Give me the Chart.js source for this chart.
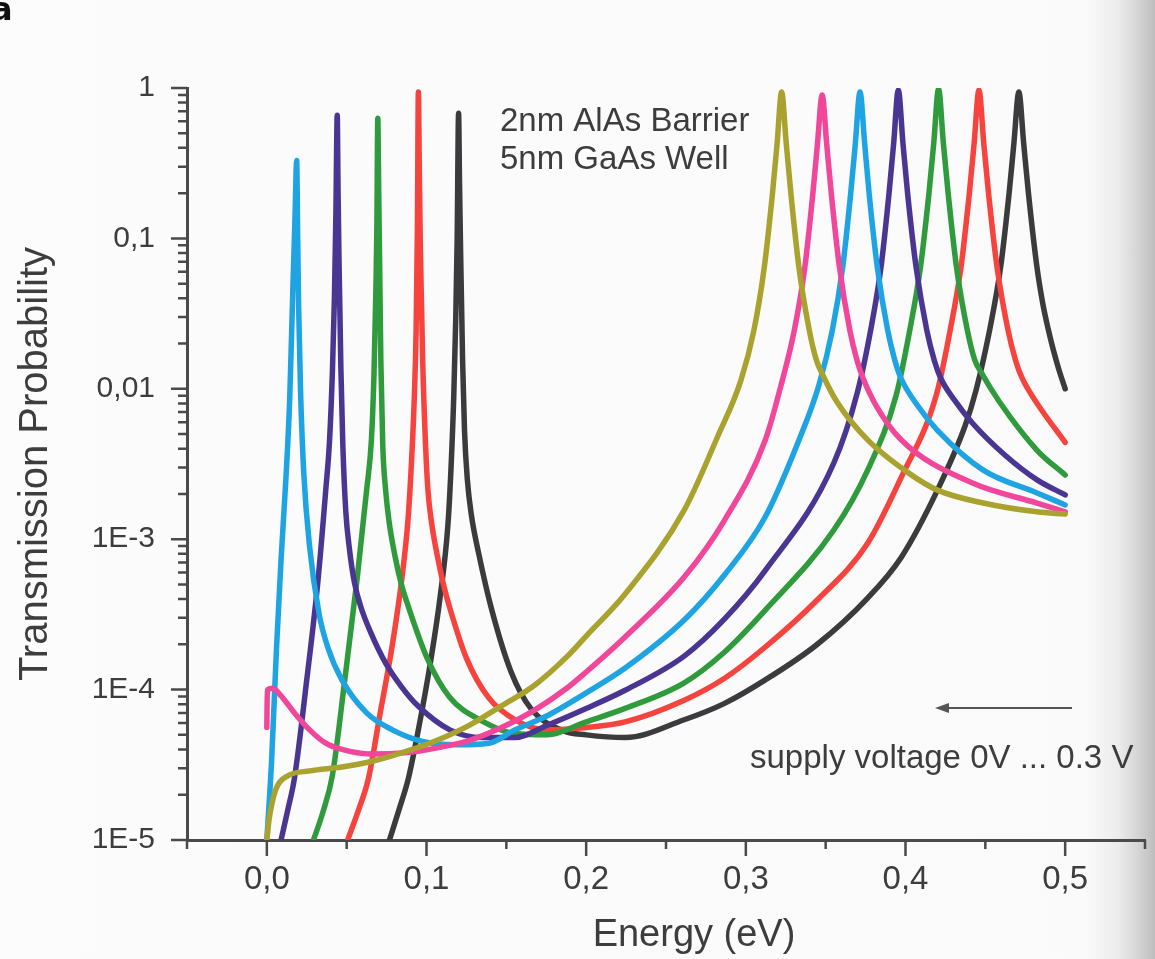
<!DOCTYPE html>
<html lang="en">
<head>
<meta charset="utf-8">
<title>Transmission Probability – Double Barrier</title>
<script src="https://cdn.jsdelivr.net/npm/chart.js@4.4.0/dist/chart.umd.min.js"></script>
<style>
  html, body { margin: 0; padding: 0; }
  body {
    width: 1155px; height: 959px; overflow: hidden;
    background: linear-gradient(to right, #fcfcfc 0px, #fafafa 1085px, #ececec 1118px, #d2d2d2 1140px, #bdbdbd 1155px);
  }
  #wrap { position: relative; width: 1155px; height: 959px; }
</style>
</head>
<body>
<div id="wrap"><canvas id="chartTrans" width="1155" height="959"></canvas></div>
<script>
// --- DONNÉES : énergie (eV) / probabilité de transmission, une série par tension ---
const energy00 = [0.0768, 0.0827, 0.0887, 0.0946, 0.1024, 0.1085, 0.1134, 0.1153, 0.1171, 0.1183, 0.1192, 0.1201, 0.1207, 0.1214, 0.1226, 0.1238, 0.1256, 0.1281, 0.1329, 0.1409, 0.153, 0.1653, 0.186, 0.2, 0.2244, 0.2614, 0.2867, 0.3122, 0.3442, 0.3763, 0.3974, 0.42, 0.4374, 0.4442, 0.4527, 0.4595, 0.4649, 0.4679, 0.471, 0.474, 0.477, 0.4824, 0.4858, 0.4892, 0.4926, 0.496, 0.5];
const trans00  = [1e-5, 1.58e-5, 2.58e-5, 5.2e-5, 1.5e-4, 4.1e-4, 1.24e-3, 2.88e-3, 9.1e-3, 0.0287, 0.0976, 0.68, 0.226, 0.0776, 0.0155, 5.3e-3, 2.48e-3, 1.45e-3, 7.85e-4, 3.38e-4, 1.31e-4, 7.5e-5, 5.3e-5, 5.0e-5, 4.8e-5, 6.3e-5, 8.1e-5, 1.16e-4, 1.98e-4, 4.06e-4, 7.6e-4, 2.12e-3, 5.7e-3, 9.8e-3, 0.0246, 0.0636, 0.20, 0.43, 0.94, 0.43, 0.20, 0.0636, 0.0378, 0.0254, 0.0181, 0.0135, 0.0100];

const energy05 = [0.0506, 0.0574, 0.0637, 0.0708, 0.0786, 0.0845, 0.0884, 0.0905, 0.0923, 0.0935, 0.0943, 0.0949, 0.0955, 0.0961, 0.0976, 0.0994, 0.1009, 0.1034, 0.1067, 0.1107, 0.1146, 0.125, 0.139, 0.1555, 0.1756, 0.2, 0.2244, 0.2614, 0.2867, 0.3122, 0.3442, 0.3763, 0.3974, 0.4193, 0.428, 0.4347, 0.44, 0.443, 0.446, 0.449, 0.452, 0.4574, 0.4642, 0.4689, 0.473, 0.4824, 0.5];
const trans05  = [1e-5, 1.58e-5, 2.58e-5, 6.8e-5, 1.98e-4, 5.4e-4, 1.34e-3, 3.11e-3, 8.4e-3, 0.0246, 0.114, 0.94, 0.285, 0.0904, 0.0155, 4.23e-3, 2.12e-3, 1.24e-3, 7.85e-4, 4.96e-4, 3.49e-4, 1.62e-4, 8.8e-5, 6.3e-5, 5.4e-5, 5.6e-5, 6.1e-5, 8.5e-5, 1.19e-4, 1.92e-4, 3.9e-4, 9.4e-4, 2.59e-3, 9.1e-3, 0.0246, 0.0636, 0.20, 0.43, 0.97, 0.43, 0.20, 0.0636, 0.0246, 0.0155, 0.0118, 8.0e-3, 4.4e-3];

const energy10 = [0.0292, 0.0351, 0.0411, 0.0488, 0.0565, 0.0625, 0.0655, 0.0671, 0.0683, 0.0689, 0.0695, 0.0701, 0.0707, 0.0714, 0.0726, 0.0744, 0.0766, 0.0804, 0.0843, 0.0885, 0.1004, 0.1145, 0.1346, 0.1553, 0.1756, 0.2, 0.2244, 0.2614, 0.2867, 0.3122, 0.3551, 0.3763, 0.3942, 0.4027, 0.4093, 0.4147, 0.4177, 0.4207, 0.4237, 0.4267, 0.432, 0.4387, 0.4434, 0.4473, 0.4588, 0.4824, 0.5];
const trans10  = [1e-5, 1.53e-5, 2.7e-5, 1.16e-4, 5.4e-4, 2.12e-3, 4.57e-3, 0.0124, 0.0454, 0.114, 0.63, 0.194, 0.0617, 0.0155, 4.23e-3, 2.12e-3, 1.3e-3, 7.6e-4, 5.0e-4, 3.6e-4, 1.62e-4, 8.9e-5, 6.2e-5, 5.1e-5, 5.0e-5, 6.1e-5, 7.5e-5, 1.11e-4, 1.78e-4, 3.38e-4, 1.15e-3, 2.88e-3, 9.1e-3, 0.0246, 0.0636, 0.20, 0.43, 0.985, 0.43, 0.20, 0.0636, 0.0246, 0.0155, 0.0129, 8.2e-3, 3.9e-3, 2.67e-3];

const energy15 = [0.0089, 0.0131, 0.0173, 0.025, 0.0321, 0.0369, 0.0393, 0.0411, 0.0423, 0.0432, 0.0441, 0.0446, 0.0452, 0.0464, 0.0476, 0.0494, 0.0518, 0.0548, 0.0589, 0.0649, 0.0744, 0.0845, 0.0946, 0.1146, 0.1348, 0.1555, 0.1756, 0.2, 0.2244, 0.2614, 0.2867, 0.3122, 0.3551, 0.3699, 0.3782, 0.3846, 0.3897, 0.3926, 0.3955, 0.3984, 0.4013, 0.4067, 0.4133, 0.418, 0.422, 0.4307, 0.442, 0.4622, 0.4824, 0.5];
const trans15  = [1e-5, 1.58e-5, 2.58e-5, 1.16e-4, 5.4e-4, 2.12e-3, 4.57e-3, 0.0133, 0.039, 0.133, 0.66, 0.21, 0.072, 0.0133, 4.23e-3, 1.56e-3, 8.5e-4, 5.2e-4, 3.54e-4, 2.42e-4, 1.5e-4, 1.04e-4, 7.8e-5, 5.4e-5, 4.8e-5, 4.8e-5, 5.8e-5, 7.5e-5, 9.9e-5, 1.67e-4, 2.95e-4, 6.2e-4, 3.21e-3, 9.5e-3, 0.0246, 0.0636, 0.20, 0.43, 0.97, 0.43, 0.20, 0.0636, 0.0246, 0.0155, 0.0118, 8.4e-3, 5.9e-3, 3.63e-3, 2.48e-3, 1.97e-3];

const energy20 = [0, 0.003, 0.006, 0.0089, 0.0119, 0.0143, 0.0161, 0.0176, 0.0187, 0.0193, 0.0199, 0.0211, 0.0232, 0.0268, 0.0327, 0.0381, 0.047, 0.0625, 0.0786, 0.0982, 0.1189, 0.139, 0.1555, 0.1756, 0.2, 0.2244, 0.2614, 0.2867, 0.3122, 0.3333, 0.3458, 0.3542, 0.3606, 0.3657, 0.3686, 0.3715, 0.3744, 0.3772, 0.3824, 0.3888, 0.3933, 0.3971, 0.4073, 0.42, 0.4487, 0.4824, 0.5];
const trans20  = [1e-5, 3.4e-5, 1.83e-4, 7.3e-4, 2.48e-3, 8.4e-3, 0.039, 0.133, 0.33, 0.105, 0.036, 9.8e-3, 2.67e-3, 8.9e-4, 3.2e-4, 1.92e-4, 1.16e-4, 7.0e-5, 5.4e-5, 4.5e-5, 4.3e-5, 4.4e-5, 5.4e-5, 6.7e-5, 9.5e-5, 1.39e-4, 2.9e-4, 5.8e-4, 1.41e-3, 4.57e-3, 0.0106, 0.0246, 0.0636, 0.20, 0.43, 0.94, 0.43, 0.20, 0.0636, 0.0246, 0.0155, 0.0118, 7.8e-3, 5.3e-3, 2.88e-3, 2.03e-3, 1.69e-3];

const energy25 = [0, 0.0003, 0.0036, 0.0089, 0.0173, 0.0268, 0.0369, 0.047, 0.0649, 0.0863, 0.1067, 0.127, 0.147, 0.1677, 0.1878, 0.2, 0.2244, 0.2614, 0.2867, 0.3122, 0.3221, 0.3304, 0.3369, 0.342, 0.3449, 0.3478, 0.3506, 0.3535, 0.3587, 0.3651, 0.3696, 0.3734, 0.3814, 0.3974, 0.442, 0.4824, 0.5];
const trans25  = [5.6e-5, 9.9e-5, 1.02e-4, 9.1e-5, 7.0e-5, 5.4e-5, 4.4e-5, 4.0e-5, 3.73e-5, 3.8e-5, 4.1e-5, 4.6e-5, 5.6e-5, 7.3e-5, 1.02e-4, 1.31e-4, 2.24e-4, 5.6e-4, 1.34e-3, 4.57e-3, 0.0106, 0.0246, 0.0636, 0.20, 0.43, 0.90, 0.43, 0.20, 0.0636, 0.0246, 0.0155, 0.0118, 7.8e-3, 4.57e-3, 2.36e-3, 1.74e-3, 1.52e-3];

const energy30 = [0, 0.0012, 0.003, 0.006, 0.0131, 0.0268, 0.047, 0.0667, 0.0863, 0.1067, 0.127, 0.147, 0.1677, 0.1878, 0.2, 0.2244, 0.2614, 0.2823, 0.2968, 0.3051, 0.3115, 0.3167, 0.3196, 0.3224, 0.3253, 0.3282, 0.3333, 0.3397, 0.3442, 0.3481, 0.357, 0.3763, 0.402, 0.42, 0.4487, 0.4824, 0.5];
const trans30  = [1e-5, 1.32e-5, 1.71e-5, 2.22e-5, 2.67e-5, 2.88e-5, 3.06e-5, 3.35e-5, 3.85e-5, 4.6e-5, 5.8e-5, 7.8e-5, 1.07e-4, 1.65e-4, 2.27e-4, 4.32e-4, 1.56e-3, 4.8e-3, 0.0113, 0.0246, 0.0636, 0.20, 0.43, 0.94, 0.43, 0.20, 0.0636, 0.0246, 0.0155, 0.0124, 8.2e-3, 4.57e-3, 2.75e-3, 2.12e-3, 1.74e-3, 1.52e-3, 1.47e-3];

// --- AXES ---
const xTicks = [0, 0.1, 0.2, 0.3, 0.4, 0.5];
const xTickLabels = ['0,0', '0,1', '0,2', '0,3', '0,4', '0,5'];
const xMinorTicks = [-0.05, 0.05, 0.15, 0.25, 0.35, 0.45, 0.55];
const yTicks = [1e-5, 1e-4, 1e-3, 1e-2, 1e-1, 1];
const yTickLabels = ['1E-5', '1E-4', '1E-3', '0,01', '0,1', '1'];
const yMinorMantissa = [2, 3, 4, 5, 6, 7, 8, 9];

const FONT = '"Liberation Sans", Arial, Helvetica, sans-serif';
const textColor = '#3d3d3d';
const axisColor = '#4a4a4a';

const toPoints = (e, t) => e.map((x, i) => ({ x: x, y: t[i] }));

// ordre : la première série est dessinée au-dessus
const series = [
    { label: '0,30 V', data: toPoints(energy30, trans30), color: '#a9a22e' },
    { label: '0,25 V', data: toPoints(energy25, trans25), color: '#f0479a' },
    { label: '0,20 V', data: toPoints(energy20, trans20), color: '#1ea3e3' },
    { label: '0,15 V', data: toPoints(energy15, trans15), color: '#4a3592' },
    { label: '0,10 V', data: toPoints(energy10, trans10), color: '#2f9b3d' },
    { label: '0,05 V', data: toPoints(energy05, trans05), color: '#f6433d' },
    { label: '0,00 V', data: toPoints(energy00, trans00), color: '#3b3a3d' }
];

// --- GRADUATIONS, TEXTES ET FLÈCHE ---
const decorations = {
    id: 'decorations',
    afterDraw(chart) {
        const { ctx, chartArea, scales } = chart;
        const xs = scales.x, ys = scales.y;
        ctx.save();
        ctx.strokeStyle = axisColor;
        ctx.lineWidth = 2.5;
        ctx.beginPath();
        xTicks.forEach(v => { let px = xs.getPixelForValue(v); ctx.moveTo(px, chartArea.bottom); ctx.lineTo(px, chartArea.bottom + 16); });
        xMinorTicks.forEach(v => { let px = xs.getPixelForValue(v); ctx.moveTo(px, chartArea.bottom); ctx.lineTo(px, chartArea.bottom + 9); });
        yTicks.forEach((v, i) => {
            let py = ys.getPixelForValue(v);
            ctx.moveTo(chartArea.left, py); ctx.lineTo(chartArea.left - 16, py);
            if (i === yTicks.length - 1) return;
            yMinorMantissa.forEach(m => { let pm = ys.getPixelForValue(m * v); ctx.moveTo(chartArea.left, pm); ctx.lineTo(chartArea.left - 9, pm); });
        });
        ctx.stroke();

        ctx.fillStyle = textColor;
        ctx.textBaseline = 'alphabetic';
        ctx.textAlign = 'left';
        ctx.font = '33px ' + FONT;
        ctx.fillText('2nm AlAs Barrier', 500, 131);
        ctx.fillText('5nm GaAs Well', 500, 169);
        ctx.fillText('supply voltage 0V ... 0.3 V', 750, 768);

        ctx.textAlign = 'center';
        ctx.font = '38px ' + FONT;
        ctx.fillText('Energy (eV)', 694, 946);

        // flèche : sens de la tension croissante
        ctx.strokeStyle = '#555';
        ctx.lineWidth = 1.8;
        ctx.beginPath(); ctx.moveTo(1072, 708); ctx.lineTo(944, 708); ctx.stroke();
        ctx.fillStyle = '#555';
        ctx.beginPath(); ctx.moveTo(935, 708); ctx.lineTo(949, 703); ctx.lineTo(949, 713); ctx.closePath(); ctx.fill();

        ctx.fillStyle = '#111';
        ctx.textAlign = 'left';
        ctx.font = 'bold 32px "DejaVu Sans", sans-serif';
        ctx.fillText('a', -9, 20);
        ctx.restore();
    }
};

// --- GRAPHIQUE ---
Chart.defaults.font.family = FONT;
Chart.defaults.color = textColor;

new Chart(document.getElementById('chartTrans').getContext('2d'), {
    type: 'line',
    data: {
        datasets: series.map(s => ({
            label: s.label, data: s.data, borderColor: s.color, backgroundColor: s.color,
            borderWidth: 5.5, pointRadius: 0, fill: false,
            cubicInterpolationMode: 'monotone', borderCapStyle: 'round', borderJoinStyle: 'round'
        }))
    },
    options: {
        responsive: false,
        animation: false,
        layout: { padding: { top: 88, right: 10, left: 0, bottom: 0 } },
        plugins: { legend: { display: false }, tooltip: { enabled: false } },
        scales: {
            x: {
                type: 'linear', min: -0.05, max: 0.55,
                grid: { display: false, drawTicks: false },
                border: { display: true, color: axisColor, width: 3 },
                ticks: { padding: 20, autoSkip: false, maxRotation: 0, color: textColor, font: { size: 33 }, callback: (v, i) => xTickLabels[i] },
                afterBuildTicks: s => { s.ticks = xTicks.map(v => ({ value: v })); },
                afterFit: s => { s.height = 119; s.paddingLeft = 0; s.paddingRight = 0; }
            },
            y: {
                type: 'logarithmic', min: 1e-5, max: 1,
                grid: { display: false, drawTicks: false },
                border: { display: true, color: axisColor, width: 3 },
                ticks: { padding: 32, autoSkip: false, color: textColor, font: { size: 30 }, callback: (v, i) => yTickLabels[i] },
                afterBuildTicks: s => { s.ticks = yTicks.map(v => ({ value: v })); },
                afterFit: s => { s.width = 187; s.paddingTop = 0; s.paddingBottom = 0; },
                title: { display: true, text: 'Transmission Probability', color: textColor, font: { size: 40 }, padding: { top: 12, bottom: 0 } }
            }
        }
    },
    plugins: [decorations]
});
</script>
</body>
</html>
